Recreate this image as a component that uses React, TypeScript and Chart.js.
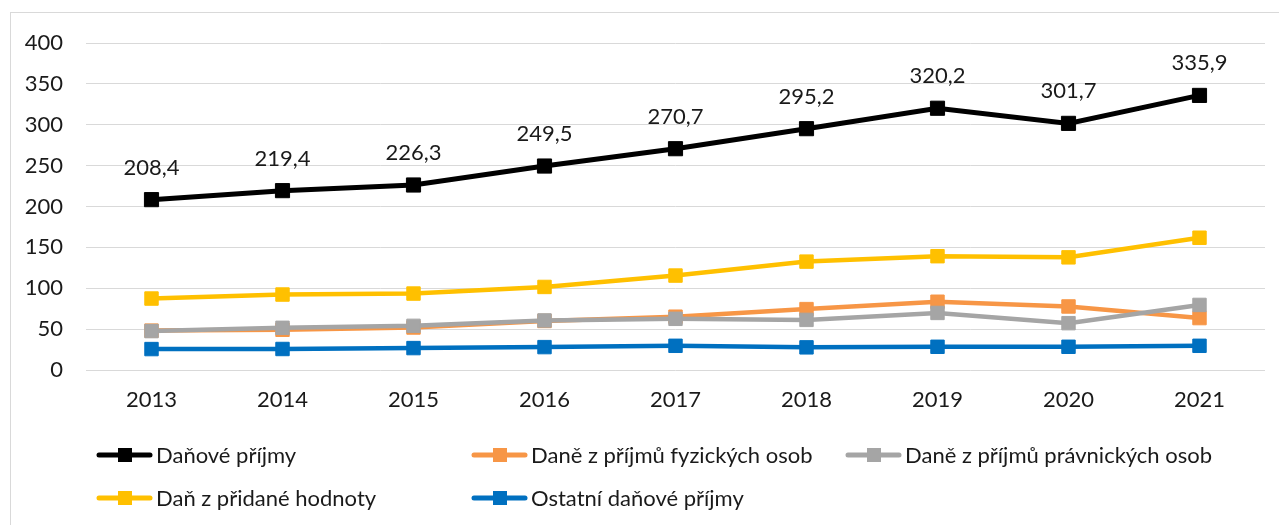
import React, { useEffect, useRef } from "react";
import { Chart, registerables } from "chart.js";

Chart.register(...registerables);

const years = ["2013", "2014", "2015", "2016", "2017", "2018", "2019", "2020", "2021"];
const danovePrijmy = [208.4, 219.4, 226.3, 249.5, 270.7, 295.2, 320.2, 301.7, 335.9];
const daneFyzicke = [48.2, 49.2, 52.0, 60.0, 65.2, 74.5, 83.5, 77.7, 63.5];
const danePravnicke = [47.6, 51.6, 54.0, 60.6, 62.6, 61.3, 69.8, 57.3, 79.6];
const dph = [87.4, 92.3, 93.5, 101.6, 115.5, 132.6, 139.2, 137.8, 161.8];
const ostatni = [25.6, 25.7, 26.8, 28.0, 29.6, 27.7, 28.4, 28.4, 29.6];
const seriesNames = [
  "Daňové příjmy",
  "Daně z příjmů fyzických osob",
  "Daně z příjmů právnických osob",
  "Daň z přidané hodnoty",
  "Ostatní daňové příjmy",
];
const seriesColors = ["#000000", "#F79646", "#A5A5A5", "#FFC000", "#0070C0"];

const FONT_FAMILY = "Lato, 'Liberation Sans', sans-serif";
const FONT_SIZE = 22;
const TEXT_COLOR = "#1a1a1a";

const fmt = (v: number) => v.toFixed(1).replace(".", ",");

const framePlugin = {
  id: "frame",
  beforeDraw(chart: any) {
    const ctx = chart.ctx;
    ctx.save();
    ctx.fillStyle = "#ffffff";
    ctx.fillRect(0, 0, chart.width, chart.height);
    ctx.strokeStyle = "#d9d9d9";
    ctx.lineWidth = 1;
    ctx.strokeRect(10.5, 12.5, chart.width + 50, chart.height + 50);
    ctx.restore();
  },
};

const labelPlugin = {
  id: "blackLabels",
  afterDatasetsDraw(chart: any) {
    const ctx = chart.ctx;
    const meta = chart.getDatasetMeta(0);
    ctx.save();
    ctx.font = `${FONT_SIZE}px ${FONT_FAMILY}`;
    ctx.fillStyle = TEXT_COLOR;
    ctx.textAlign = "center";
    ctx.textBaseline = "middle";
    meta.data.forEach((pt: any, i: number) => {
      ctx.fillText(fmt(danovePrijmy[i]), pt.x, pt.y - 32);
    });
    ctx.restore();
  },
};

const legendPlugin = {
  id: "customLegend",
  afterDraw(chart: any) {
    const ctx = chart.ctx;
    const cols = [97, 472, 846];
    const rows = [455, 498];
    ctx.save();
    ctx.font = `${FONT_SIZE}px ${FONT_FAMILY}`;
    ctx.textAlign = "left";
    ctx.textBaseline = "middle";
    seriesNames.forEach((name, i) => {
      const x = cols[i % 3];
      const y = rows[Math.floor(i / 3)];
      const color = seriesColors[i];
      ctx.strokeStyle = color;
      ctx.lineWidth = 5;
      ctx.lineCap = "round";
      ctx.beginPath();
      ctx.moveTo(x + 2, y);
      ctx.lineTo(x + 53, y);
      ctx.stroke();
      ctx.fillStyle = color;
      ctx.fillRect(x + 21, y - 7, 14, 14);
      ctx.fillStyle = TEXT_COLOR;
      ctx.fillText(name, x + 59, y + 1);
    });
    ctx.restore();
  },
};

export default function App() {
  const ref = useRef<HTMLCanvasElement | null>(null);

  useEffect(() => {
    if (!ref.current) return;
    const mk = (idx: number, data: number[], order: number, radius: number, width: number) => ({
      label: seriesNames[idx],
      data,
      borderColor: seriesColors[idx],
      backgroundColor: seriesColors[idx],
      pointBackgroundColor: seriesColors[idx],
      pointBorderColor: seriesColors[idx],
      pointStyle: "rect" as const,
      pointRadius: radius,
      pointBorderWidth: 1,
      borderWidth: width,
      tension: 0,
      order,
    });
    const chart = new Chart(ref.current, {
      type: "line",
      data: {
        labels: years,
        datasets: [
          mk(0, danovePrijmy, 0, 10, 5),
          mk(1, daneFyzicke, 3, 9.5, 4.5),
          mk(2, danePravnicke, 2, 9.5, 4.5),
          mk(3, dph, 1, 9.5, 4.5),
          mk(4, ostatni, 4, 9.5, 4.5),
        ],
      },
      options: {
        animation: false,
        responsive: false,
        maintainAspectRatio: false,
        layout: { padding: { left: 0, top: 43, right: 14, bottom: 105 } },
        plugins: { legend: { display: false }, tooltip: { enabled: false } },
        scales: {
          x: {
            offset: true,
            grid: { display: false, drawTicks: false },
            border: { display: false },
            ticks: {
              padding: 17,
              color: TEXT_COLOR,
              font: { family: FONT_FAMILY, size: FONT_SIZE },
            },
            afterFit(s: any) {
              s.height = 50;
            },
          },
          y: {
            min: 0,
            max: 400,
            ticks: {
              stepSize: 50,
              padding: 23,
              color: TEXT_COLOR,
              font: { family: FONT_FAMILY, size: FONT_SIZE },
            },
            grid: { color: "#d9d9d9", lineWidth: 1, drawTicks: false },
            border: { display: false },
            afterFit(s: any) {
              s.width = 86;
            },
          },
        },
      },
      plugins: [framePlugin, labelPlugin, legendPlugin],
    });
    return () => chart.destroy();
  }, []);

  return (
    <div style={{ position: "absolute", left: 0, top: 0, width: 1279, height: 525 }}>
      <canvas ref={ref} width={1279} height={525} style={{ width: 1279, height: 525, display: "block" }} />
    </div>
  );
}
